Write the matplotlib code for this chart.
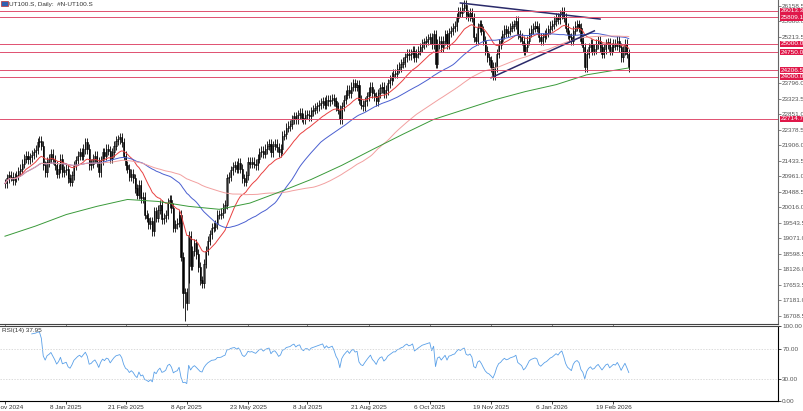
import matplotlib
matplotlib.use("Agg")
import matplotlib.pyplot as plt
import numpy as np
import pandas as pd

plt.rcParams['font.family'] = ['Liberation Sans', 'DejaVu Sans']

closes = [
20750,20900,21000,20950,20850,20930,21000,21120,21200,21350,21500,21600,21480,21550,21620,21700,21780,22000,22050,21900,21300,21100,21400,21500,21650,21480,21300,21050,21200,21500,21100,21150,
21200,20900,20800,21000,21300,21450,21600,21700,21600,21800,22000,21800,21300,21350,21500,21600,21400,21100,21450,21700,21600,21800,21750,21500,21700,21900,22050,22100,22150,22000,21600,
21300,21200,20950,21050,20900,20600,20400,20700,20300,20350,19800,19700,19500,19600,19300,19900,19700,19950,20100,19650,19700,19800,20150,20250,20000,19400,19500,19550,19800,18520,17400,17430,
17090,19145,18240,18690,18920,18600,18200,17800,17700,18300,18700,19000,19200,19400,19430,19500,19800,19800,19850,20000,20100,20900,20950,21150,21250,21300,21200,21370,21200,20900,20800,21000,
21400,21350,21400,21350,21300,21500,21700,21750,21650,21800,21900,21950,21700,21900,21950,21850,21700,21800,22200,22250,22450,22500,22550,22700,22800,22700,22850,22900,22750,22700,22850,
22850,22800,22950,23000,23050,23100,23150,23200,23250,23150,23300,23250,23300,23350,23250,23100,23000,22700,23100,23300,23450,23600,23500,23700,23800,23700,23750,23300,23150,23100,23250,23400,
23550,23700,23500,23400,23250,23500,23650,23700,23500,23600,23800,23900,24000,24100,24100,24250,24300,24400,24450,24600,24700,24650,24700,24800,24600,24700,24800,24900,25000,25050,25100,25150,
25200,25000,25300,24400,25000,25100,24900,25100,25300,25000,25350,25400,25500,25550,25800,26000,25950,26100,26200,25900,25850,25950,25800,25200,25100,25500,25600,25400,25100,24800,24600,24500,
24300,24050,24300,24700,25000,25100,25300,25450,25350,25400,25500,25550,25600,25700,25300,25200,25100,24800,24900,25100,25350,25450,25500,25550,25500,25200,25100,25200,25300,25350,25450,25550,
25600,25700,25800,25750,25900,26000,25800,25500,25300,25200,25100,25400,25550,25600,25500,25100,24900,24300,24700,24900,25000,24800,24850,25000,25100,24900,24700,24850,25000,25050,24800,24900,
25000,24950,25100,24900,24600,24800,25000,24700,24300,
]
wick = 140
low_override_idx = [93, 94, 95, 96]
low_override_val = [16950, 16560, 16900, 17700]

ma200_idx = [0,16,32,48,64,80,96,112,128,144,160,176,192,208,224,240,256,272,288,304,326]
ma200_val = [19140,19450,19800,20050,20260,20200,20050,19960,20150,20500,20870,21300,21780,22250,22700,23000,23300,23550,23760,24060,24270]

tick_idx = [0,32,63,95,127,158,190,222,254,286,318]
tick_lbl = ["21 Nov 2024","8 Jan 2025","21 Feb 2025","8 Apr 2025","23 May 2025","8 Jul 2025",
            "21 Aug 2025","6 Oct 2025","19 Nov 2025","6 Jan 2026","19 Feb 2026"]
price_ticks = [26158.5,25686.0,25213.5,23796.0,23323.5,22851.0,22378.5,21906.0,21433.5,20961.0,
               20488.5,20016.0,19543.5,19071.0,18598.5,18126.0,17653.5,17181.0,16708.5]
levels = [26013.3,25809.1,25000.0,24750.0,24206.5,24000.0,22714.7]
tl1_x = [238, 311]; tl1_y = [26250, 25760]
tl2_x = [254, 308]; tl2_y = [23970, 25400]

FS = 4.6
c = pd.Series(closes, dtype=float)
o = c.shift(1).fillna(c.iloc[0])
n = len(c)
x = np.arange(n)
lows = np.minimum(o, c) - wick
lows[low_override_idx] = low_override_val

fig = plt.figure(figsize=(8.04, 4.11), dpi=100)
ax = fig.add_axes([0, 0.2117, 0.9677, 0.7883])
ar = fig.add_axes([0, 0.0243, 0.9677, 0.1825])

up = c >= o
for i in range(n):
    hi = max(o[i], c[i]) + wick
    ax.vlines(i, lows[i], hi, color="black", lw=0.6)
    b = min(o[i], c[i]); h = max(abs(c[i]-o[i]), 8)
    ax.bar(i, h, bottom=b, width=0.6, color="white" if up[i] else "black", edgecolor="black", lw=0.4)

ax.plot(x, c.ewm(span=20).mean(), color="#e84040", lw=0.7)
ax.plot(x, c.rolling(50, min_periods=1).mean(), color="#4a5fd0", lw=0.7)
ax.plot(x, c.rolling(100, min_periods=1).mean(), color="#f2a0a0", lw=0.7)
ax.plot(ma200_idx, ma200_val, color="#3a9a3a", lw=0.7)
ax.plot(tl1_x, tl1_y, color="#2a2a6a", lw=1.1)
ax.plot(tl2_x, tl2_y, color="#2a2a6a", lw=1.1)

for lv in levels:
    ax.axhline(lv, color="#e05070", lw=0.7)
    ax.text(1.003, lv, f"{lv:.1f}", transform=ax.get_yaxis_transform(), fontsize=FS, color="white",
            va="center", ha="left", bbox=dict(boxstyle="square,pad=0.1", fc="#e0184a", ec="none"), clip_on=False)

ax.set_xlim(-2.6, 404); ax.set_ylim(16464, 26341)
ax.yaxis.tick_right()
ax.set_yticks(price_ticks); ax.set_yticklabels([f"{p:.1f}" for p in price_ticks], fontsize=FS, color="#555")
ax.set_xticks(tick_idx); ax.set_xticklabels([])
ax.tick_params(length=2, width=0.5, pad=1, colors="#555")
for s in ["left", "top"]:
    ax.spines[s].set_visible(False)
ax.spines["right"].set_color("#666"); ax.spines["bottom"].set_color("#444")
ax.text(0.012, 0.995, "UT100.S, Daily:  #N-UT100.S", transform=ax.transAxes, fontsize=FS, va="top", color="#333")
ax.add_patch(plt.Rectangle((0.001, 0.982), 0.009, 0.014, transform=ax.transAxes, fc="#3060b0", ec="#c03030", lw=0.5))

d = c.diff()
g = d.clip(lower=0).ewm(alpha=1/14, adjust=False).mean()
l = (-d.clip(upper=0)).ewm(alpha=1/14, adjust=False).mean()
rsi = 100 - 100/(1 + g/l)
ar.plot(x[14:], rsi[14:], color="#5aa0e8", lw=0.6)
for lv in (70, 30):
    ar.axhline(lv, color="#cccccc", lw=0.5, ls=(0, (2, 2)))
ar.set_xlim(-2.6, 404); ar.set_ylim(0, 100)
ar.yaxis.tick_right()
ar.set_yticks([0, 30, 70, 100]); ar.set_yticklabels(["0.00", "30.00", "70.00", "100.00"], fontsize=FS, color="#555")
ar.set_xticks(tick_idx); ar.set_xticklabels(tick_lbl, fontsize=FS, color="#333")
ar.tick_params(length=2, width=0.5, pad=1)
ar.spines["left"].set_visible(False)
ar.spines["top"].set_color("#444")
ar.text(0.003, 0.97, f"RSI(14) {rsi.iloc[-1]:.2f}", transform=ar.transAxes, fontsize=FS, va="top", color="#333")

fig.savefig("out.png", dpi=100)
